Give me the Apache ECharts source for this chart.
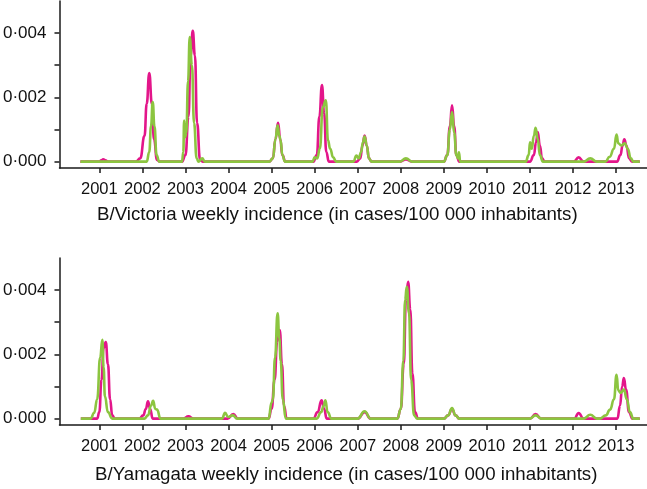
<!DOCTYPE html>
<html>
<head>
<meta charset="utf-8">
<script src="https://cdn.jsdelivr.net/npm/echarts@6/dist/echarts.min.js"></script>
<style>
html,body{margin:0;padding:0;background:#fff;}
#chart{width:647px;height:489px;}
</style>
</head>
<body>
<div id="chart"></div>
<script>
// Tick labels
const yearTicks = [2001,2002,2003,2004,2005,2006,2007,2008,2009,2010,2011,2012,2013];
const yLabelValues = [0, 0.002, 0.004];
const yTickValues = [0, 0.001, 0.002, 0.003, 0.004];
const panelTitles = [
  'B/Victoria weekly incidence (in cases/100 000 inhabitants)',
  'B/Yamagata weekly incidence (in cases/100 000 inhabitants)'
];

// B/Victoria - magenta series [year, incidence]
const victoriaMagenta = [
  [2000.56,0],[2001.0,0],[2001.05,0.00004],[2001.09,0.00007],[2001.14,0.00004],[2001.2,0],
  [2001.85,0],[2001.95,0.0001],[2002.05,0.0008],[2002.1,0.0018],[2002.16,0.00276],[2002.22,0.0018],[2002.27,0.0007],[2002.34,0.00005],[2002.4,0],
  [2002.92,0],[2003.0,0.0002],[2003.07,0.0014],[2003.12,0.0033],[2003.17,0.00407],[2003.22,0.0033],[2003.27,0.0012],[2003.34,0.00005],[2003.4,0],
  [2004.95,0],[2005.03,0.0001],[2005.09,0.0007],[2005.15,0.00121],[2005.2,0.0007],[2005.25,0.0002],[2005.32,0],
  [2005.97,0],[2006.05,0.0002],[2006.11,0.0014],[2006.17,0.00238],[2006.22,0.0015],[2006.27,0.0003],[2006.33,0],
  [2006.98,0],[2007.06,0.0001],[2007.11,0.0005],[2007.16,0.00081],[2007.21,0.0005],[2007.26,0.0001],[2007.32,0],
  [2007.98,0],[2008.12,0.00007],[2008.26,0],
  [2009.0,0],[2009.08,0.0002],[2009.14,0.0011],[2009.19,0.00175],[2009.24,0.0011],[2009.29,0.0002],[2009.36,0],
  [2011.0,0],[2011.09,0.0002],[2011.14,0.0006],[2011.18,0.00092],[2011.23,0.0005],[2011.28,0.0001],[2011.34,0],
  [2012.02,0],[2012.13,0.00013],[2012.24,0],
  [2013.02,0],[2013.1,0.0002],[2013.15,0.0005],[2013.19,0.00069],[2013.24,0.0005],[2013.3,0.0001],[2013.37,0],[2013.55,0]
];
// B/Victoria - green series
const victoriaGreen = [
  [2000.56,0],
  [2002.1,0],[2002.16,0.0003],[2002.2,0.0011],[2002.24,0.00185],[2002.28,0.0011],[2002.33,0.0002],[2002.39,0],
  [2002.92,0],[2002.95,0.0003],[2002.97,0.00128],[2002.99,0.00076],[2003.02,0.0009],[2003.06,0.0025],[2003.1,0.00388],[2003.15,0.003],[2003.2,0.0012],[2003.26,0.0001],[2003.3,0],[2003.39,0.0001],[2003.45,0],
  [2004.95,0],[2005.03,0.0001],[2005.09,0.0007],[2005.14,0.00113],[2005.18,0.0008],[2005.21,0.00066],[2005.25,0.0002],[2005.31,0],
  [2005.95,0],[2006.0,0.00013],[2006.06,0.0001],[2006.12,0.0004],[2006.19,0.0017],[2006.26,0.00191],[2006.31,0.00066],[2006.36,0.0004],[2006.43,0.00013],[2006.5,0],
  [2006.9,0],[2006.97,0.00019],[2007.02,0.0001],[2007.08,0.0003],[2007.12,0.0006],[2007.16,0.00078],[2007.21,0.0005],[2007.26,0.0001],[2007.32,0],
  [2007.98,0],[2008.12,0.0001],[2008.26,0],
  [2009.0,0],[2009.08,0.0002],[2009.14,0.001],[2009.19,0.00154],[2009.24,0.0009],[2009.29,0.0002],[2009.33,0.0001],[2009.35,0.00029],[2009.38,0],
  [2010.9,0],[2010.97,0.0002],[2011.0,0.0006],[2011.04,0.0004],[2011.09,0.0008],[2011.13,0.00105],[2011.18,0.0007],[2011.23,0.0002],[2011.3,0],
  [2012.25,0],[2012.4,0.0001],[2012.55,0],
  [2012.75,0],[2012.85,0.00015],[2012.95,0.0004],[2013.01,0.00084],[2013.05,0.00057],[2013.12,0.0005],[2013.2,0.00057],[2013.27,0.0004],[2013.34,0.0001],[2013.4,0],[2013.55,0]
];
// B/Yamagata - magenta series
const yamagataMagenta = [
  [2000.57,0],[2000.95,0],[2001.0,0.0002],[2001.05,0.0012],[2001.1,0.0022],[2001.15,0.00238],[2001.2,0.0017],[2001.25,0.0006],[2001.3,0.0001],[2001.36,0],
  [2001.93,0],[2002.02,0.0001],[2002.08,0.0003],[2002.13,0.00054],[2002.18,0.0003],[2002.24,0],
  [2002.95,0],[2003.07,0.00007],[2003.18,0],
  [2003.98,0],[2004.11,0.00014],[2004.22,0],
  [2004.93,0],[2005.0,0.0003],[2005.07,0.0012],[2005.13,0.0024],[2005.19,0.00276],[2005.24,0.0017],[2005.29,0.0004],[2005.35,0],
  [2005.97,0],[2006.07,0.0002],[2006.16,0.00057],[2006.22,0.0003],[2006.28,0],
  [2007.0,0],[2007.16,0.0002],[2007.3,0],
  [2007.92,0],[2008.0,0.0003],[2008.07,0.0017],[2008.12,0.0037],[2008.17,0.00426],[2008.22,0.0034],[2008.27,0.0014],[2008.33,0.0002],[2008.4,0],
  [2009.0,0],[2009.1,0.0001],[2009.19,0.0003],[2009.27,0.0001],[2009.36,0],
  [2011.0,0],[2011.13,0.00014],[2011.26,0],
  [2012.03,0],[2012.13,0.00017],[2012.24,0],
  [2013.03,0],[2013.09,0.0004],[2013.14,0.001],[2013.18,0.00126],[2013.23,0.0009],[2013.3,0.0002],[2013.38,0],[2013.55,0]
];
// B/Yamagata - green series
const yamagataGreen = [
  [2000.57,0],[2000.8,0],[2000.88,0.00018],[2000.95,0.0006],[2001.02,0.0019],[2001.07,0.00245],[2001.1,0.0016],[2001.13,0.00069],[2001.2,0.0002],[2001.3,0],
  [2002.05,0],[2002.13,0.0001],[2002.2,0.0004],[2002.25,0.00055],[2002.3,0.0003],[2002.34,0.00028],[2002.42,0],
  [2003.85,0],[2003.92,0.00018],[2003.99,0.00005],[2004.1,0.0001],[2004.2,0],
  [2004.93,0],[2005.0,0.0005],[2005.03,0.0006],[2005.08,0.0019],[2005.14,0.00328],[2005.18,0.0025],[2005.21,0.0018],[2005.26,0.0006],[2005.33,0],
  [2006.05,0],[2006.15,0.0002],[2006.21,0.0004],[2006.25,0.00057],[2006.3,0.0002],[2006.39,0],
  [2007.0,0],[2007.16,0.00023],[2007.3,0],
  [2007.92,0],[2008.0,0.0003],[2008.06,0.0018],[2008.1,0.0037],[2008.14,0.0041],[2008.19,0.0033],[2008.24,0.0012],[2008.31,0.0001],[2008.38,0],
  [2009.0,0],[2009.1,0.0001],[2009.19,0.00033],[2009.27,0.0001],[2009.36,0],
  [2011.0,0],[2011.13,0.0001],[2011.26,0],
  [2012.25,0],[2012.4,0.00012],[2012.55,0],
  [2012.63,0],[2012.76,0.0001],[2012.86,0.00028],[2012.95,0.0006],[2013.01,0.00136],[2013.05,0.00088],[2013.1,0.0008],[2013.18,0.0009],[2013.25,0.0006],[2013.32,0.0002],[2013.4,0],[2013.55,0]
];

const FONT = 'Liberation Sans, Arial, sans-serif';
const MAGENTA = '#e3168a';
const GREEN = '#8cc540';
const AXIS = '#1a1a1a';

function xAxisFor(gi) {
  return {
    type: 'value', gridIndex: gi, min: 2000.075, max: 2013.717,
    axisLine: {show: true, onZero: false, lineStyle: {color: AXIS, width: 1.5}},
    axisTick: {show: true, length: 5, customValues: yearTicks, lineStyle: {color: AXIS, width: 1.5}},
    axisLabel: {customValues: yearTicks, margin: 13, fontSize: 16.5, color: '#111', fontFamily: FONT,
      formatter: v => String(Math.round(v))},
    splitLine: {show: false}
  };
}
function yAxisFor(gi) {
  return {
    type: 'value', gridIndex: gi, min: -0.0002, max: 0.005,
    axisLine: {show: true, lineStyle: {color: AXIS, width: 1.5}},
    axisTick: {show: true, length: 5, customValues: yTickValues, lineStyle: {color: AXIS, width: 1.5}},
    axisLabel: {customValues: yLabelValues, margin: 13, fontSize: 17, color: '#111', fontFamily: FONT,
      formatter: v => v.toFixed(3).replace('.', '\u00B7')},
    splitLine: {show: false}
  };
}
function lineSeries(name, data, color, gi) {
  return {
    name, type: 'line', xAxisIndex: gi, yAxisIndex: gi, data,
    showSymbol: false, smooth: 0.5, smoothMonotone: 'x',
    lineStyle: {color, width: 2.6}, itemStyle: {color}, animation: false
  };
}

const TITLE_STYLE = {fontSize: 18.7, fontWeight: 'normal', color: '#111', fontFamily: FONT};
const chart = echarts.init(document.getElementById('chart'), null, {renderer: 'canvas'});
chart.setOption({
  animation: false,
  backgroundColor: '#fff',
  grid: [
    {left: 57, top: 1, width: 590, height: 167},
    {left: 57, top: 258, width: 590, height: 167}
  ],
  xAxis: [xAxisFor(0), xAxisFor(1)],
  yAxis: [yAxisFor(0), yAxisFor(1)],
  title: [
    {text: panelTitles[0], left: 97, top: 205, padding: 0, textStyle: TITLE_STYLE},
    {text: panelTitles[1], left: 95, top: 465, padding: 0, textStyle: TITLE_STYLE}
  ],
  series: [
    lineSeries('Victoria A', victoriaMagenta, MAGENTA, 0),
    lineSeries('Victoria B', victoriaGreen, GREEN, 0),
    lineSeries('Yamagata A', yamagataMagenta, MAGENTA, 1),
    lineSeries('Yamagata B', yamagataGreen, GREEN, 1)
  ]
});
</script>
</body>
</html>
